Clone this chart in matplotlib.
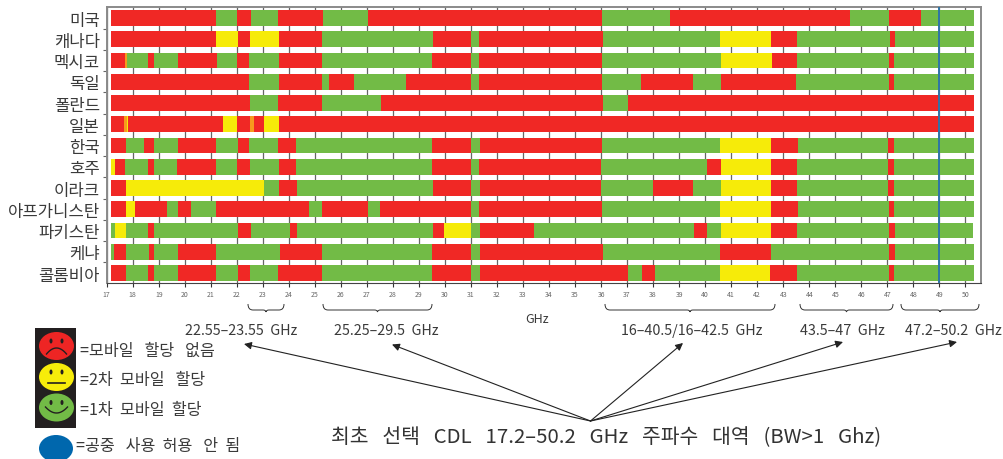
import matplotlib
matplotlib.use("Agg")
import matplotlib.pyplot as plt
import numpy as np
from matplotlib.patches import Ellipse, PathPatch, Rectangle
from matplotlib.path import Path

plt.rcParams['font.family'] = ['Noto Sans CJK KR', 'DejaVu Sans']

countries = ["미국", "캐나다", "멕시코", "독일", "폴란드", "일본", "한국", "호주",
             "이라크", "아프가니스탄", "파키스탄", "케냐", "콜롬비아"]
ghz_ticks = list(range(17, 51))
no_aviation_ghz = 49

# band edges in GHz per country, and the allocation of each band
us_edges = [17.17, 21.20, 22.01, 22.54, 23.58, 25.31, 27.04, 36.03, 38.64, 45.56, 47.05, 48.28, 50.32]
us_alloc = "rgrgrgrgrgrg"
ca_edges = [17.17, 21.20, 22.04, 22.51, 23.62, 25.27, 29.54, 30.99, 31.30, 36.07, 40.56, 42.52, 43.52, 47.09, 47.28, 50.32]
ca_alloc = "ryryrgrgrgyrgrg"
mx_edges = [17.17, 17.70, 17.78, 18.59, 18.82, 19.74, 21.24, 22.01, 22.47, 23.62, 25.27, 29.50, 30.99, 31.30, 36.03, 40.60, 42.56, 43.52, 47.05, 47.25, 50.32]
mx_alloc = "rogrgrgrgrgrgrgyrgrg"
de_edges = [17.17, 22.47, 23.62, 25.27, 25.54, 26.50, 28.50, 30.99, 31.30, 36.03, 37.53, 39.52, 40.60, 43.48, 47.05, 47.25, 50.32]
de_alloc = "rgrgrgrgrgrgrgrg"
pl_edges = [17.17, 22.51, 23.58, 25.27, 27.54, 36.07, 37.03, 50.32]
pl_alloc = "rgrgrgr"
jp_edges = [17.17, 17.66, 17.78, 17.82, 21.47, 22.01, 22.51, 22.66, 23.04, 23.62, 50.32]
jp_alloc = "royryroryr"
kr_edges = [17.17, 17.74, 18.43, 18.82, 19.74, 21.20, 22.04, 22.47, 23.58, 24.27, 29.50, 30.99, 31.34, 36.03, 40.56, 42.52, 43.56, 47.02, 47.25, 50.32]
kr_alloc = "rgrgrgrgrgrgrgyrgrg"
au_edges = [17.17, 17.32, 17.70, 18.59, 18.82, 19.70, 21.20, 22.01, 22.51, 23.62, 24.27, 29.50, 30.99, 31.30, 35.99, 40.06, 40.60, 42.52, 43.52, 47.02, 47.25, 50.32]
au_alloc = "yrgrgrgrgrgrgrgryrgrg"
iq_edges = [17.17, 17.74, 23.04, 23.62, 24.31, 29.54, 30.99, 31.34, 35.99, 37.99, 39.52, 40.60, 42.52, 43.52, 47.02, 47.25, 50.32]
iq_alloc = "rygrgrgrgrgyrgrg"
af_edges = [17.17, 17.74, 18.09, 19.32, 19.74, 20.24, 21.20, 24.77, 25.27, 27.04, 27.50, 30.99, 31.30, 36.03, 40.56, 42.52, 43.56, 47.05, 47.25, 50.32]
af_alloc = "ryrgrgrgrgrgrgyrgrg"
pk_edges = [17.17, 17.32, 17.74, 18.59, 18.82, 22.04, 22.54, 24.04, 24.31, 29.54, 29.96, 30.99, 31.34, 33.42, 39.56, 40.06, 40.60, 42.52, 43.52, 47.05, 47.28, 50.28]
pk_alloc = "gygrgrgrgrygrgrgyrgrg"
ke_edges = [17.17, 17.28, 17.74, 18.63, 18.82, 19.74, 21.20, 23.66, 25.27, 29.50, 30.99, 31.34, 36.07, 40.56, 42.52, 47.05, 47.28, 50.32]
ke_alloc = "grgrgrgrgrgrgrgrg"
co_edges = [17.17, 17.74, 18.59, 18.82, 19.74, 21.20, 22.04, 22.51, 23.58, 25.27, 29.50, 30.99, 31.34, 37.03, 37.57, 38.06, 40.56, 42.48, 43.52, 47.05, 47.25, 50.32]
co_alloc = "rgrgrgrgrgrgrgrgyrgrg"

all_edges = [us_edges, ca_edges, mx_edges, de_edges, pl_edges, jp_edges, kr_edges,
             au_edges, iq_edges, af_edges, pk_edges, ke_edges, co_edges]
all_alloc = [us_alloc, ca_alloc, mx_alloc, de_alloc, pl_alloc, jp_alloc, kr_alloc,
             au_alloc, iq_alloc, af_alloc, pk_alloc, ke_alloc, co_alloc]

colors = {"r": "#f02825", "g": "#72bb46", "y": "#f6eb09", "o": "#f79a1e"}
text_color = "#3a3a3a"

fig = plt.figure(figsize=(10.04, 4.6), dpi=100)
ax = fig.add_axes([106.7 / 1004, 1 - 284 / 460, (981 - 106.7) / 1004, 276 / 460])

for row, (edges, alloc) in enumerate(zip(all_edges, all_alloc)):
    edges = np.array(edges)
    ax.barh(row, np.diff(edges), left=edges[:-1], height=0.75, linewidth=0,
            color=[colors[c] for c in alloc], zorder=2)

ax.axvline(no_aviation_ghz, color="#2f75a8", lw=1.4, zorder=3)

ax.set_xlim(17, 50.6)
ax.set_ylim(12.47, -0.518)
ax.set_xticks(ghz_ticks)
ax.set_xticklabels(ghz_ticks, fontsize=5, color="#666666")
ax.xaxis.grid(True, color="#666666", lw=0.9, zorder=1)
ax.set_axisbelow(True)
ax.tick_params(axis="x", length=3, width=0.8, color="#333333", pad=2)
ax.set_yticks(range(len(countries)))
ax.set_yticklabels(countries, fontsize=12, color=text_color)
ax.set_yticks(np.arange(0.5, 12), minor=True)
ax.tick_params(axis="y", which="major", length=0, pad=4.8)
ax.tick_params(axis="y", which="minor", length=3, width=0.8, color="#666666")
for side in ["left", "top", "right"]:
    ax.spines[side].set_color("#8a8a8a")
    ax.spines[side].set_linewidth(1.4)
ax.spines["bottom"].set_color("#444444")
ax.spines["bottom"].set_linewidth(0.8)

# everything below the chart lives on an overlay in picture pixels
ov = fig.add_axes([0, 0, 1, 1])
ov.set_xlim(0, 1004)
ov.set_ylim(460, 0)
ov.axis("off")
ov.patch.set_alpha(0)


def brace(x0, x1, y0=305, y1=311, tip=313):
    mid = (x0 + x1) / 2
    verts = [(x0, y0), (x0, y1), (x0 + 5, y1), (mid - 3, y1), (mid, y1), (mid, tip),
             (mid, y1), (mid + 3, y1), (x1 - 5, y1), (x1, y1), (x1, y0)]
    codes = [Path.MOVETO, Path.CURVE3, Path.CURVE3, Path.LINETO, Path.CURVE3, Path.CURVE3,
             Path.CURVE3, Path.CURVE3, Path.LINETO, Path.CURVE3, Path.CURVE3]
    ov.add_patch(PathPatch(Path(verts, codes), fill=False, ec="#333333", lw=0.7))


for x0, x1 in [(248, 284), (323, 432), (605, 775), (800, 893), (901, 979)]:
    brace(x0, x1)

range_labels = ["22.55–23.55  GHz", "25.25–29.5  GHz", "16–40.5/16–42.5  GHz", "43.5–47  GHz", "47.2–50.2  GHz"]
label_x = [241, 386, 691.5, 842.5, 953]
for x, s in zip(label_x, range_labels):
    ov.text(x, 331, s, ha="center", va="center", fontsize=10.3, color=text_color)
ov.text(537, 320, "GHz", ha="center", va="center", fontsize=9, color=text_color)

for tip in [(244, 345), (392, 345.5), (683, 344), (843, 343), (957, 343)]:
    ov.annotate("", xy=tip, xytext=(590.5, 422),
                arrowprops=dict(arrowstyle="-|>", color="#222222", lw=0.8, mutation_scale=11, shrinkA=0, shrinkB=0))

ov.text(331, 438, "최초   선택   CDL   17.2–50.2   GHz   주파수   대역   (BW>1   Ghz)", ha="left", va="center",
        fontsize=14.7, color="#333333")

# legend faces
ov.add_patch(Rectangle((35, 329), 41, 100, fc="#231f20", ec="none"))
face_colors = ["#ee2524", "#f7ec0a", "#72bb46"]
for yc, fc in zip([347, 378, 408.5], face_colors):
    ov.add_patch(Ellipse((56.5, yc), 35, 28, fc=fc, ec="none"))
    for dx in (-5.5, 5.5):
        ov.add_patch(Ellipse((56.5 + dx, yc - 5), 3, 5, fc="#231f20", ec="none"))
t = np.linspace(-1, 1, 30)
ov.plot(56.5 + 10 * t, 355 - 6 * (1 - t ** 2), color="#231f20", lw=1)
ov.plot([48, 65], [384, 384], color="#231f20", lw=1.2)
ov.plot(56.5 + 11 * t, 408 + 6 * (1 - t ** 2), color="#231f20", lw=1)
ov.add_patch(Ellipse((56, 449.5), 34, 27, fc="#0067ad", ec="none"))

legend_labels = ["=모바일   할당   없음", "=2차  모바일   할당", "=1차  모바일  할당", "=공중   사용  허용   안  됨"]
for x, y, s in zip([80, 80, 80, 76], [351, 381, 411, 447], legend_labels):
    ov.text(x, y, s, ha="left", va="center", fontsize=11.6, color=text_color)

fig.savefig("out.png", dpi=100)
